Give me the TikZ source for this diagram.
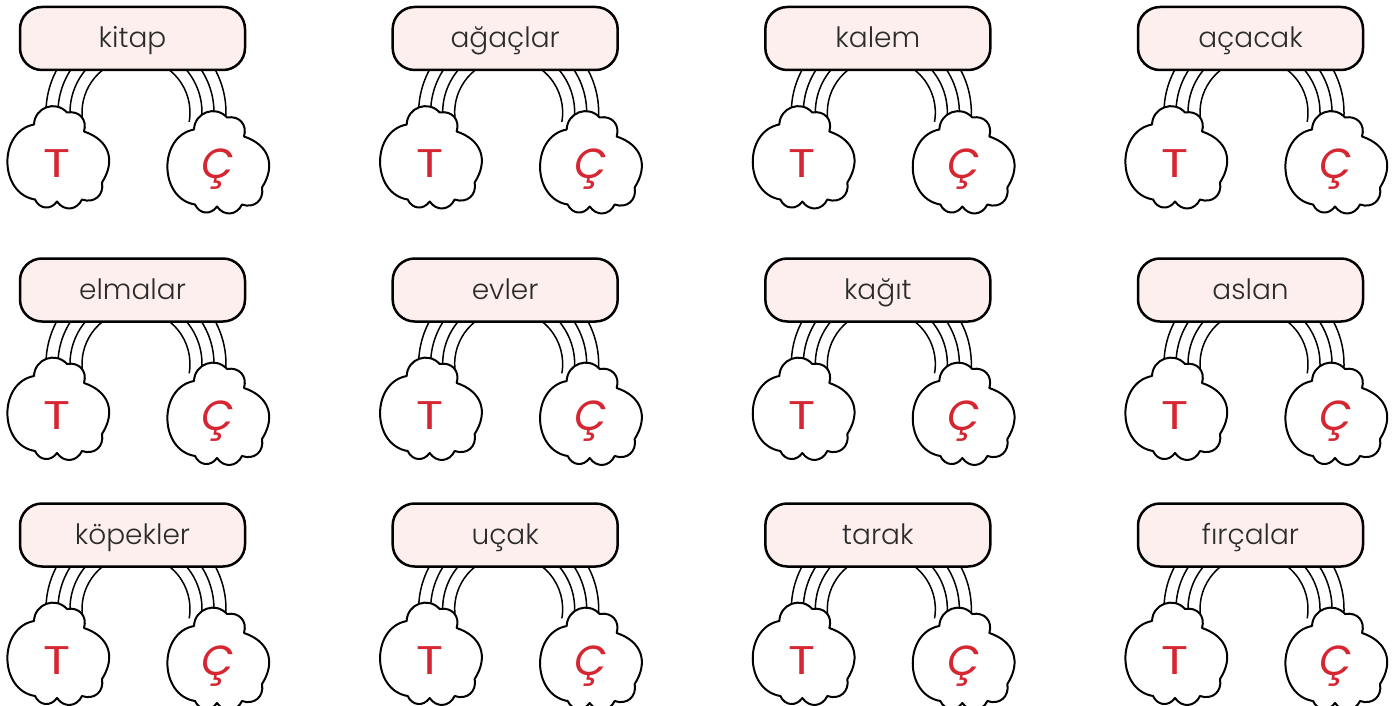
\documentclass[tikz,border=0pt]{standalone}
\usepackage{fontspec}
\setmainfont{Poppins Light}
\newfontfamily\letterfont{Poppins}
\definecolor{boxpink}{HTML}{FCEFEE}
\definecolor{letterred}{HTML}{D62631}
\definecolor{wordgray}{HTML}{2B2B2B}
\tikzset{
  wordbox/.style={draw=black, line width=2.5pt, fill=boxpink, rounded corners=22pt,
    minimum width=225pt, minimum height=63pt, inner sep=0pt, text height=20pt, text depth=1pt,
    font=\fontsize{28}{28}\selectfont, text=wordgray},
  cloudline/.style={draw=black, line width=2pt, fill=white, line join=round},
  tletter/.style={text=letterred, font=\letterfont\fontsize{40}{40}\selectfont, inner sep=0pt, xscale=1.25},
  cletter/.style={text=letterred, font=\letterfont\itshape\fontsize{42}{42}\selectfont, inner sep=0pt},
  band/.style={line width=1.5pt, draw=black}
}
\newcommand\puffcloud[1]{%
  \path[cloudline, looseness=1.25] (#1) ++(-23,-31)
    to[bend left=68] ++(33,-12)
    to[bend left=58] ++(17,19)
    to[bend left=52] ++(18,51)
    to[bend left=60] ++(-20,17)
    to[bend left=60] ++(-25,2)
    to[bend left=60] ++(-22,-2)
    to[bend left=80] ++(-1,-75) -- cycle;}
\begin{document}
\begin{tikzpicture}[x=1pt,y=-1pt]
\useasboundingbox (0,0) rectangle (1400,706);
\foreach \w [count=\i from 0] in {kitap,ağaçlar,kalem,açacak,elmalar,evler,kağıt,aslan,köpekler,uçak,tarak,fırçalar} {
  \pgfmathtruncatemacro\c{mod(\i,4)}
  \pgfmathtruncatemacro\r{div(\i,4)}
  \pgfmathsetmacro\yy{{38.5,290,535}[\r]}
  \pgfmathsetmacro\xx{132.5+372.67*\c}
  \coordinate (rc\i) at (\xx+3.5,\yy+74);
  \foreach \rad in {54,66,78,90}
    \draw[band] (rc\i) ++(170:\rad) arc[start angle=170,end angle=370,radius=\rad];
  \node[wordbox] (box\i) at (\xx,\yy) {\w};
  \coordinate (tc\i) at (\xx-75.5,\yy+117);
  \coordinate (cc\i) at (\xx+84.5,\yy+122);
  \puffcloud{tc\i}
  \puffcloud{cc\i}
  \node[tletter] (tl\i) at (\xx-75.5,\yy+125.5) {T};
  \node[cletter] (cl\i) at (\xx+85.5,\yy+131) {Ç};
}
\end{tikzpicture}
\end{document}
